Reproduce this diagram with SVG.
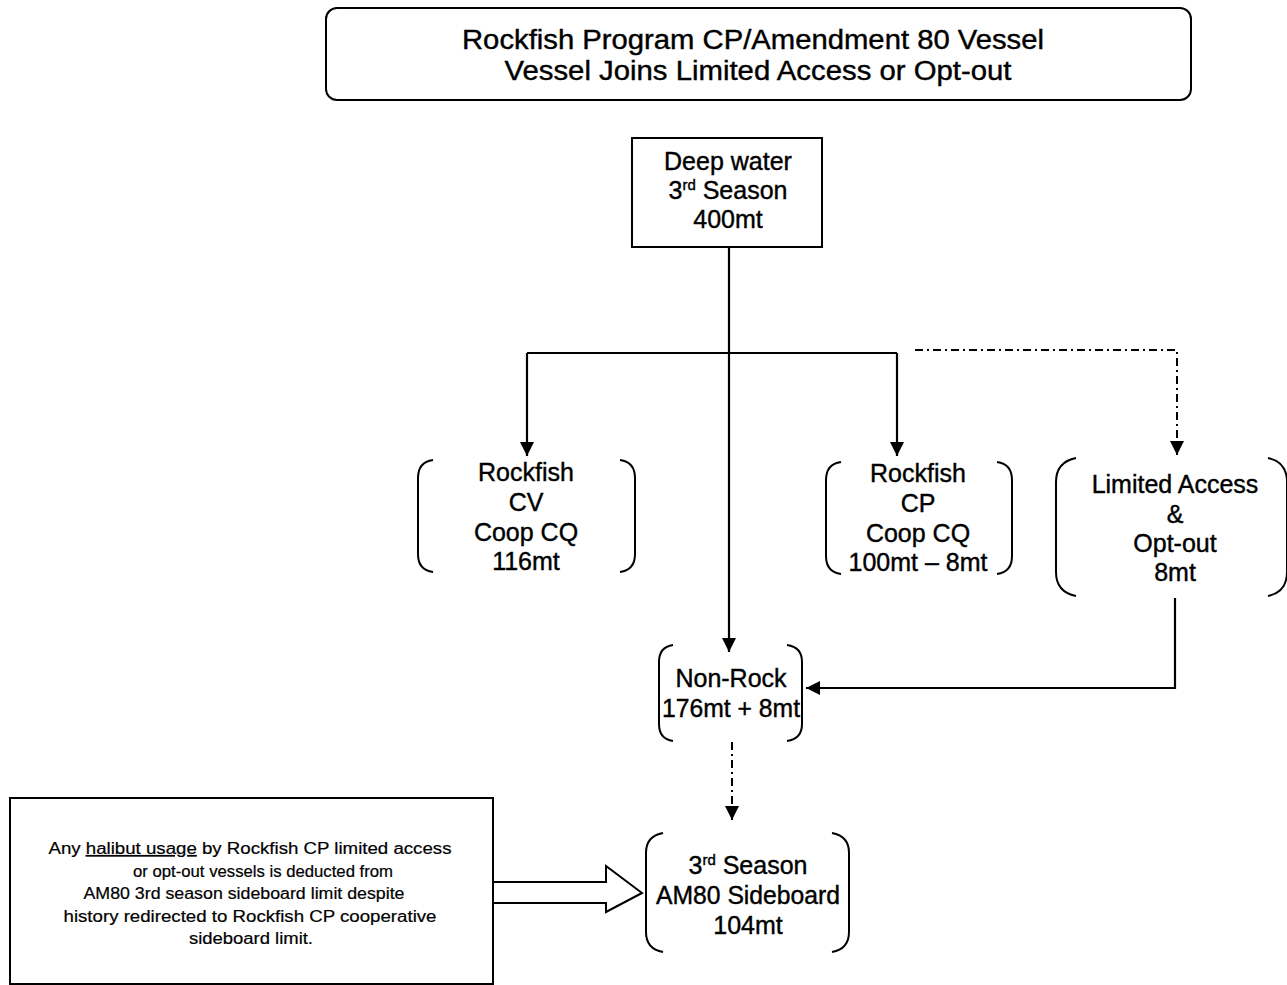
<svg xmlns="http://www.w3.org/2000/svg" width="1287" height="985" viewBox="0 0 1287 985">
<defs>
<style>
.t{font-family:"Liberation Sans",Arial,sans-serif;fill:#000;text-anchor:middle;stroke:#000;stroke-width:0.4}
.n{font-size:25px}
.ttl{font-size:27px}
.s{font-size:16px;stroke-width:0.2}
.box{fill:#fff;stroke:#000;stroke-width:2}
.br{fill:none;stroke:#000;stroke-width:2}
.ln{fill:none;stroke:#000;stroke-width:2.2}
.dd{fill:none;stroke:#000;stroke-width:2;stroke-dasharray:8 4 2 4}
</style>
<marker id="ah" viewBox="0 0 10 10" refX="10" refY="5" markerWidth="14" markerHeight="14" markerUnits="userSpaceOnUse" orient="auto">
<path d="M0,0 L10,5 L0,10 z" fill="#000"/>
</marker>
</defs>
<rect width="1287" height="985" fill="#fff"/>

<g id="title">
<rect class="box" x="326" y="8" width="865" height="92" rx="11"/>
<text class="t ttl" x="753" y="49" textLength="582" lengthAdjust="spacingAndGlyphs">Rockfish Program CP/Amendment 80 Vessel</text>
<text class="t ttl" x="758" y="80" textLength="507" lengthAdjust="spacingAndGlyphs">Vessel Joins Limited Access or Opt-out</text>
</g>

<g id="connectors">
<path class="ln" d="M729,247 V652" marker-end="url(#ah)"/>
<path class="ln" d="M527,353 H897"/>
<path class="ln" d="M527,353 V456" marker-end="url(#ah)"/>
<path class="ln" d="M897,353 V456" marker-end="url(#ah)"/>
<path class="dd" d="M915,350 H1177 V455" marker-end="url(#ah)"/>
<path class="ln" d="M1175,598 V688 H806" marker-end="url(#ah)"/>
<path class="dd" d="M732,742 V820" marker-end="url(#ah)"/>
<path d="M493,882 H606 V866 L642,893 L606,912 V903 H493" fill="#fff" stroke="#000" stroke-width="2"/>
</g>

<g id="deepwater">
<rect class="box" x="632" y="138" width="190" height="109"/>
<text class="t n" x="728" y="170">Deep water</text>
<text class="t n" x="728" y="199">3<tspan font-size="15" dy="-9">rd</tspan><tspan dy="9"> Season</tspan></text>
<text class="t n" x="728" y="228">400mt</text>
</g>

<g id="rockfish-cv">
<path class="br" d="M433,460 Q418,462 418,478 V554 Q418,570 433,572"/>
<path class="br" d="M620,460 Q635,462 635,478 V554 Q635,570 620,572"/>
<text class="t n" x="526" y="481">Rockfish</text>
<text class="t n" x="526" y="511">CV</text>
<text class="t n" x="526" y="541">Coop CQ</text>
<text class="t n" x="526" y="570">116mt</text>
</g>

<g id="rockfish-cp">
<path class="br" d="M841,462 Q826,464 826,480 V556 Q826,572 841,574"/>
<path class="br" d="M997,462 Q1012,464 1012,480 V556 Q1012,572 997,574"/>
<text class="t n" x="918" y="482">Rockfish</text>
<text class="t n" x="918" y="512">CP</text>
<text class="t n" x="918" y="542">Coop CQ</text>
<text class="t n" x="918" y="571">100mt – 8mt</text>
</g>

<g id="limited-access">
<path class="br" d="M1076,458 Q1056,462 1056,482 V572 Q1056,592 1076,596"/>
<path class="br" d="M1268,458 Q1287,462 1287,482 V572 Q1287,592 1268,596"/>
<text class="t n" x="1175" y="493">Limited Access</text>
<text class="t n" x="1175" y="523">&amp;</text>
<text class="t n" x="1175" y="552">Opt-out</text>
<text class="t n" x="1175" y="581">8mt</text>
</g>

<g id="non-rock">
<path class="br" d="M673,645 Q659,647 659,662 V724 Q659,739 673,741"/>
<path class="br" d="M787,645 Q802,647 802,662 V724 Q802,739 787,741"/>
<text class="t n" x="731" y="687">Non-Rock</text>
<text class="t n" x="731" y="717" textLength="138" lengthAdjust="spacingAndGlyphs">176mt + 8mt</text>
</g>

<g id="am80-sideboard">
<path class="br" d="M663,833 Q646,836 646,853 V932 Q646,949 663,952"/>
<path class="br" d="M832,833 Q849,836 849,853 V932 Q849,949 832,952"/>
<text class="t n" x="748" y="874">3<tspan font-size="15" dy="-9">rd</tspan><tspan dy="9"> Season</tspan></text>
<text class="t n" x="748" y="904" textLength="184" lengthAdjust="spacingAndGlyphs">AM80 Sideboard</text>
<text class="t n" x="748" y="934">104mt</text>
</g>

<g id="note">
<rect class="box" x="10" y="798" width="483" height="186"/>
<text class="t s" x="250" y="854" textLength="403" lengthAdjust="spacingAndGlyphs">Any <tspan text-decoration="underline">halibut usage</tspan> by Rockfish CP limited access</text>
<text class="t s" x="263" y="877" textLength="260" lengthAdjust="spacingAndGlyphs">or opt-out vessels is deducted from</text>
<text class="t s" x="244" y="899" textLength="321" lengthAdjust="spacingAndGlyphs">AM80 3rd season sideboard limit despite</text>
<text class="t s" x="250" y="922" textLength="373" lengthAdjust="spacingAndGlyphs">history redirected to Rockfish CP cooperative</text>
<text class="t s" x="251" y="944" textLength="124" lengthAdjust="spacingAndGlyphs">sideboard limit.</text>
</g>
</svg>
